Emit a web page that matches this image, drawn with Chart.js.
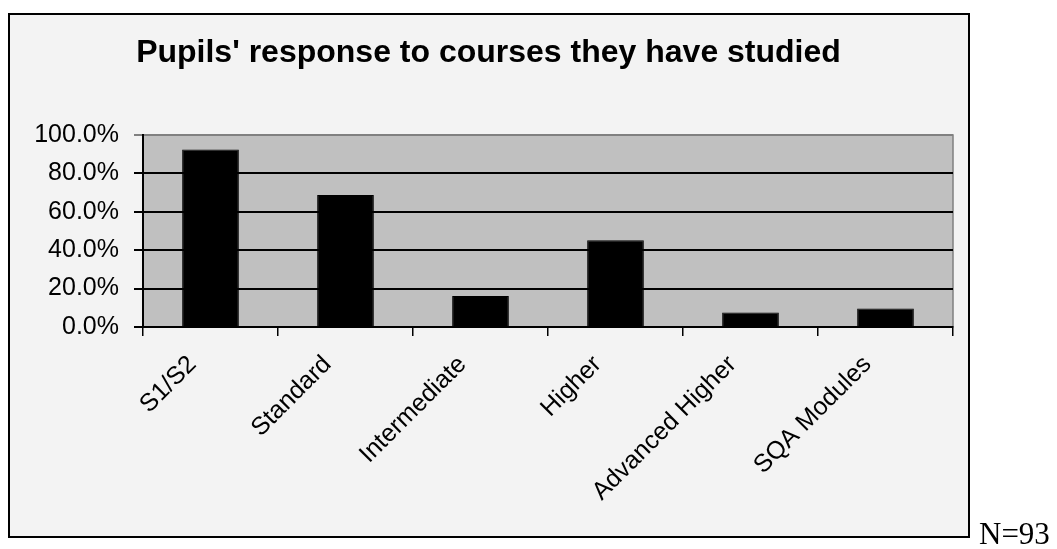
<!DOCTYPE html>
<html>
<head>
<meta charset="utf-8">
<style>
  html, body { margin: 0; padding: 0; background: #ffffff; }
  #wrap { width: 1057px; height: 549px; position: relative; }
</style>
<script src="https://cdn.jsdelivr.net/npm/chart.js@4.4.1/dist/chart.umd.min.js"></script>
</head>
<body>
<div id="wrap"><canvas id="chart" width="1057" height="549"></canvas></div>
<script>
// Course categories and share of pupils (N=93) responding for each
const categories = ['S1/S2', 'Standard', 'Intermediate', 'Higher', 'Advanced Higher', 'SQA Modules'];
const responseShare = [92.5, 68.8, 16.1, 45.2, 7.5, 9.7];
const yTicks = [0, 20, 40, 60, 80, 100];
const chartTitle = "Pupils' response to courses they have studied";
const sampleNote = 'N=93';

// Outer frame, plot background and the sample-size note
const framePlugin = {
  id: 'frame',
  beforeDraw(chart) {
    const ctx = chart.ctx;
    const a = chart.chartArea;
    ctx.save();
    ctx.fillStyle = '#ffffff';
    ctx.fillRect(0, 0, chart.width, chart.height);
    ctx.fillStyle = '#f3f3f3';
    ctx.fillRect(9, 14, 960, 523);
    ctx.lineWidth = 2;
    ctx.strokeStyle = '#000000';
    ctx.strokeRect(9, 14, 960, 523);
    ctx.fillStyle = '#c0c0c0';
    ctx.fillRect(a.left, a.top, a.right - a.left, a.bottom - a.top);
    ctx.strokeStyle = '#808080';
    ctx.lineWidth = 1.5;
    ctx.strokeRect(a.left, a.top, a.right - a.left, a.bottom - a.top);
    ctx.restore();
  },
  afterDraw(chart) {
    const ctx = chart.ctx;
    ctx.save();
    ctx.fillStyle = '#000000';
    ctx.font = '31px "Liberation Serif", "Times New Roman", serif';
    ctx.textAlign = 'left';
    ctx.textBaseline = 'alphabetic';
    ctx.fillText(sampleNote, 979, 544);
    ctx.restore();
  }
};

new Chart(document.getElementById('chart'), {
  type: 'bar',
  data: {
    labels: categories,
    datasets: [{
      data: responseShare,
      backgroundColor: '#000000',
      borderColor: '#000000',
      borderWidth: 1,
      categoryPercentage: 1,
      barPercentage: 0.42
    }]
  },
  options: {
    responsive: false,
    animation: false,
    devicePixelRatio: 1,
    layout: { padding: { left: 24, right: 104, top: 0, bottom: 0 } },
    plugins: {
      legend: { display: false },
      tooltip: { enabled: false },
      title: {
        display: true,
        text: chartTitle,
        color: '#000000',
        font: { family: '"Liberation Sans", Arial, sans-serif', size: 32, weight: 'bold', lineHeight: 1.2 },
        padding: { top: 34, bottom: 62.6 }
      }
    },
    scales: {
      x: {
        grid: {
          offset: true,
          drawOnChartArea: false,
          drawTicks: true,
          tickLength: 9,
          color: '#000000',
          lineWidth: 1.5
        },
        border: { display: true, color: '#000000', width: 2 },
        ticks: {
          color: '#000000',
          maxRotation: 45,
          minRotation: 45,
          padding: 14,
          labelOffset: -18,
          font: { family: '"Liberation Sans", Arial, sans-serif', size: 25 }
        },
        afterFit(scale) { scale.height = 222; }
      },
      y: {
        min: 0,
        max: 100,
        afterBuildTicks(scale) { scale.ticks = yTicks.map(v => ({ value: v })); },
        grid: {
          drawTicks: true,
          tickLength: 9,
          lineWidth: 2,
          color: (c) => (c.tick && c.tick.value === 100 ? '#808080' : '#000000')
        },
        border: { display: true, color: '#000000', width: 2 },
        ticks: {
          color: '#000000',
          padding: 15,
          font: { family: '"Liberation Sans", Arial, sans-serif', size: 25 },
          callback: (v) => Number(v).toFixed(1) + '%'
        },
        afterFit(scale) { scale.width = 119; }
      }
    }
  },
  plugins: [framePlugin]
});
</script>
</body>
</html>
